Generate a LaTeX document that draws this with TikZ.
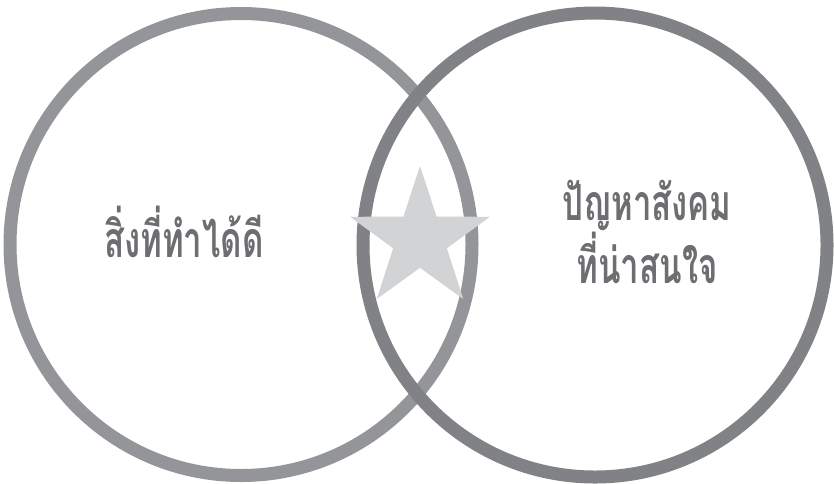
\documentclass[tikz,border=0pt]{standalone}
\usepackage{fontspec}
\newfontfamily\thaifont[Script=Thai]{Loma}
\usetikzlibrary{shapes.geometric}
\definecolor{ringA}{HTML}{939598}
\definecolor{ringB}{HTML}{808285}
\definecolor{starfill}{HTML}{D1D3D4}
\definecolor{txt}{HTML}{6D6E71}
\begin{document}
\begin{tikzpicture}[x=1pt,y=-1pt,
  ring/.style={line width=13pt},
  label/.style={text=txt,font=\thaifont\bfseries\fontsize{50}{49}\selectfont,align=center,inner sep=0pt}]
\useasboundingbox[fill=white] (0,0) rectangle (834,483);
\draw[ring,ringA] (241,244.5) circle[radius=231];
\draw[ring,ringB] (595,245) circle[radius=232];
\node[star,star points=5,star point ratio=2.6,minimum size=147pt,inner sep=0pt,fill=starfill] (star) at (420,239.5) {};
\node[label] (left) at (184,232) {\scalebox{0.66}[1]{สิ่งที่ทำได้ดี}};
\node[label] (right) at (647,232) {\scalebox{0.66}[1]{ปัญหาสังคม}\\\scalebox{0.66}[1]{ที่น่าสนใจ}};
\end{tikzpicture}
\end{document}
